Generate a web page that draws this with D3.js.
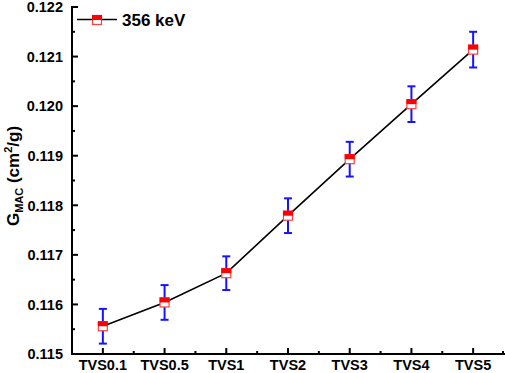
<!DOCTYPE html>
<html>
<head>
<meta charset="utf-8">
<script src="https://cdn.jsdelivr.net/npm/d3@7"></script>
<style>
  body { margin: 0; background: #fff; }
  svg { display: block; font-family: "Liberation Sans", Arial, sans-serif; }
</style>
</head>
<body>
<svg id="chart" width="505" height="373"></svg>
<script>
// data
var samples = ["TVS0.1", "TVS0.5", "TVS1", "TVS2", "TVS3", "TVS4", "TVS5"];
var gmac = [0.11556, 0.11604, 0.11663, 0.11779, 0.11893, 0.12004, 0.12114];
var gmacErr = [0.00035, 0.00035, 0.00034, 0.00035, 0.00035, 0.00036, 0.00036];
var yTicks = [0.115, 0.116, 0.117, 0.118, 0.119, 0.120, 0.121, 0.122];
var legendLabel = "356 keV";

var width = 505, height = 373;
var margin = { top: 7, right: 1, bottom: 19, left: 72 };

var svg = d3.select("#chart");

var x = d3.scalePoint()
    .domain(samples)
    .range([margin.left, width - margin.right])
    .padding(0.5);

var y = d3.scaleLinear()
    .domain([0.115, 0.122])
    .range([height - margin.bottom, margin.top]);

var data = samples.map(function (s, i) {
    return { name: s, value: gmac[i], err: gmacErr[i] };
});

// minor ticks
var step = x.step();
var xMinor = samples.slice(0, -1).map(function (s) { return x(s) + step / 2; });
xMinor.push(x(samples[samples.length - 1]) + step / 2 - 1);
var yMinor = d3.range(0.1155, 0.1220, 0.001);

var axisG = svg.append("g").attr("stroke", "#000").attr("stroke-width", 2);

axisG.selectAll(".ymin").data(yMinor).join("line")
    .attr("x1", margin.left).attr("x2", margin.left + 3)
    .attr("y1", d => y(d)).attr("y2", d => y(d));
axisG.selectAll(".ymaj").data(yTicks).join("line")
    .attr("x1", margin.left).attr("x2", margin.left + 6)
    .attr("y1", d => y(d)).attr("y2", d => y(d));
axisG.selectAll(".xmin").data(xMinor).join("line")
    .attr("x1", d => d).attr("x2", d => d)
    .attr("y1", y(0.115)).attr("y2", y(0.115) - 3);
axisG.selectAll(".xmaj").data(samples).join("line")
    .attr("x1", d => x(d)).attr("x2", d => x(d))
    .attr("y1", y(0.115)).attr("y2", y(0.115) - 6);

// spines
axisG.append("line")
    .attr("x1", margin.left).attr("x2", margin.left)
    .attr("y1", y(0.122) - 1).attr("y2", y(0.115) + 1);
axisG.append("line")
    .attr("x1", margin.left - 1).attr("x2", width)
    .attr("y1", y(0.115)).attr("y2", y(0.115));

// tick labels
svg.append("g")
    .attr("font-size", 14.5).attr("font-weight", "bold")
    .attr("text-anchor", "end")
    .selectAll("text").data(yTicks).join("text")
    .attr("x", margin.left - 9)
    .attr("y", d => y(d))
    .attr("dy", "0.36em")
    .text(d => d3.format(".3f")(d));

svg.append("g")
    .attr("font-size", 14.5).attr("font-weight", "bold")
    .attr("text-anchor", "middle")
    .selectAll("text").data(samples).join("text")
    .attr("x", d => x(d))
    .attr("y", 373)
    .attr("dy", "-0.2em")
    .text(d => d);

// y label
var yl = svg.append("text")
    .attr("transform", "translate(19,176) rotate(-90)")
    .attr("text-anchor", "middle")
    .attr("font-size", 17).attr("font-weight", "bold");
yl.append("tspan").text("G");
yl.append("tspan").attr("font-size", 11).attr("dy", 4).text("MAC");
yl.append("tspan").attr("dy", -4).text(" (cm");
yl.append("tspan").attr("font-size", 11).attr("dy", -7).text("2");
yl.append("tspan").attr("dy", 7).text("/g)");

// connecting line
svg.append("path")
    .datum(data)
    .attr("fill", "none")
    .attr("stroke", "#000")
    .attr("stroke-width", 1.6)
    .attr("d", d3.line().x(d => x(d.name)).y(d => y(d.value)));

// error bars
var eb = svg.append("g").attr("stroke", "#1414ff").attr("stroke-width", 2);
eb.selectAll(".v").data(data).join("line")
    .attr("x1", d => x(d.name)).attr("x2", d => x(d.name))
    .attr("y1", d => y(d.value + d.err)).attr("y2", d => y(d.value - d.err));
eb.selectAll(".t").data(data).join("line")
    .attr("x1", d => x(d.name) - 4).attr("x2", d => x(d.name) + 4)
    .attr("y1", d => y(d.value + d.err)).attr("y2", d => y(d.value + d.err));
eb.selectAll(".b").data(data).join("line")
    .attr("x1", d => x(d.name) - 4).attr("x2", d => x(d.name) + 4)
    .attr("y1", d => y(d.value - d.err)).attr("y2", d => y(d.value - d.err));

// half-filled square markers
function marker(g, cx, cy) {
    g.append("rect")
        .attr("x", cx - 4.5).attr("y", cy - 4.5)
        .attr("width", 9).attr("height", 9)
        .attr("fill", "#fff").attr("stroke", "#ff4040").attr("stroke-width", 1.2);
    g.append("rect")
        .attr("x", cx - 5).attr("y", cy - 5)
        .attr("width", 10).attr("height", 5)
        .attr("fill", "#ff0000");
}
var mk = svg.append("g");
data.forEach(function (d) { marker(mk, x(d.name), y(d.value)); });

// legend
var lg = svg.append("g");
lg.append("line")
    .attr("x1", 77).attr("x2", 117)
    .attr("y1", 19.5).attr("y2", 19.5)
    .attr("stroke", "#000").attr("stroke-width", 1.6);
marker(lg, 97, 20);
lg.append("text")
    .attr("x", 122).attr("y", 20).attr("dy", "0.36em")
    .attr("font-size", 17).attr("font-weight", "bold")
    .text(legendLabel);
</script>
</body>
</html>
